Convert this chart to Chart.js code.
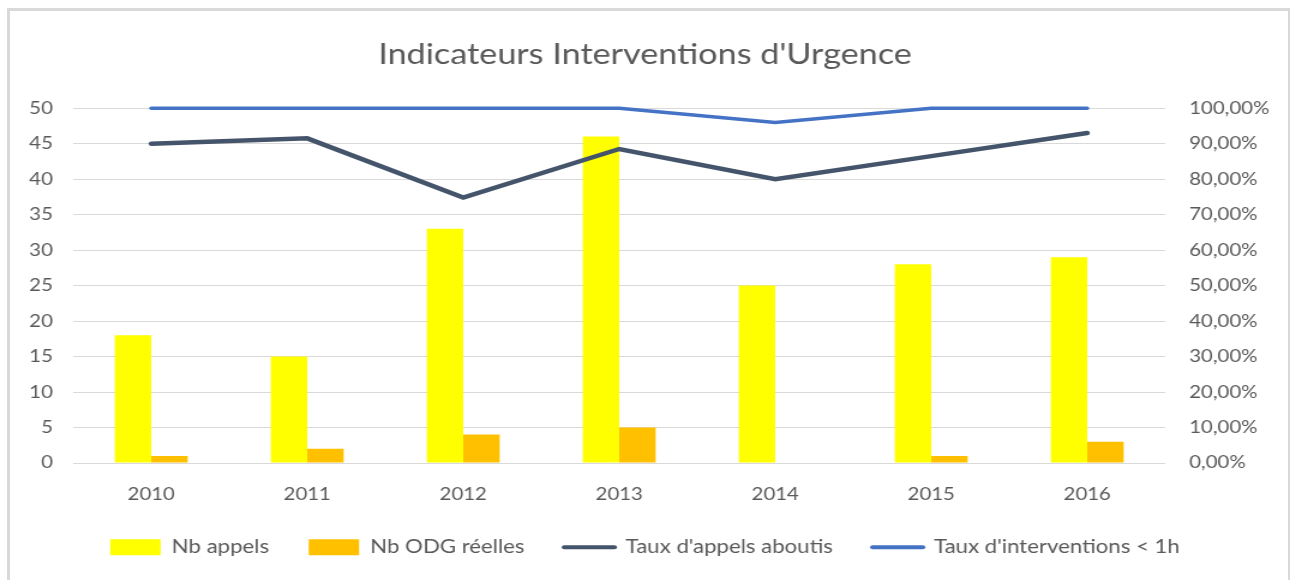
<!DOCTYPE html>
<html lang="fr">
<head>
<meta charset="utf-8">
<title>Indicateurs Interventions d'Urgence</title>
<script src="https://cdn.jsdelivr.net/npm/chart.js@4.4.1/dist/chart.umd.min.js"></script>
<style>
    html, body { margin: 0; padding: 0; background: #ffffff; overflow: hidden; }
    #frame {
        position: absolute;
        left: 7px;
        top: 8px;
        width: 1278px;
        height: 600px;
        border: 3px solid #d9d9d9;
    }
    /* Le graphique d'origine est étiré horizontalement (~1,2x) */
    #wrap {
        position: absolute;
        left: 0;
        top: 0;
        width: 1075px;
        height: 580px;
        transform: scaleX(1.2);
        transform-origin: 0 0;
    }
</style>
</head>
<body>
<div id="frame"></div>
<div id="wrap"><canvas id="chart" width="1075" height="580"></canvas></div>
<script>
// Données
const annees = ['2010', '2011', '2012', '2013', '2014', '2015', '2016'];
const nbAppels = [18, 15, 33, 46, 25, 28, 29];
const nbOdgReelles = [1, 2, 4, 5, 0, 1, 3];
const tauxAppelsAboutis = [90.0, 91.5, 74.8, 88.5, 80.0, 86.5, 93.0];
const tauxInterventions = [100, 100, 100, 100, 96.0, 100, 100];

const gris = '#595959';
const police = 'Lato, "Open Sans", sans-serif';

// Formate les pourcentages comme dans Excel (virgule décimale)
function formatPourcent(value) {
    return value.toFixed(2).replace('.', ',') + '%';
}

// Fixe la hauteur de la légende pour la placer comme dans l'original
const hauteurLegende = {
    id: 'hauteurLegende',
    beforeLayout(chart) {
        const legend = chart.legend;
        if (legend && !legend._hauteurFixe) {
            const fitOrigine = legend.fit;
            legend.fit = function() {
                fitOrigine.call(this);
                this.height = 75;
            };
            legend._hauteurFixe = true;
        }
    }
};

Chart.defaults.font.family = police;
Chart.defaults.color = gris;

const ctx = document.getElementById('chart').getContext('2d');

new Chart(ctx, {
    type: 'bar',
    data: {
        labels: annees,
        datasets: [
            {
                label: 'Nb appels',
                data: nbAppels,
                backgroundColor: '#ffff00',
                yAxisID: 'y',
                order: 3
            },
            {
                label: 'Nb ODG réelles',
                data: nbOdgReelles,
                backgroundColor: '#ffc000',
                yAxisID: 'y',
                order: 3
            },
            {
                type: 'line',
                label: "Taux d'appels aboutis",
                data: tauxAppelsAboutis,
                borderColor: '#44546a',
                backgroundColor: '#44546a',
                borderWidth: 4.5,
                borderCapStyle: 'round',
                pointRadius: 0,
                tension: 0,
                clip: false,
                yAxisID: 'y1',
                order: 2
            },
            {
                type: 'line',
                label: "Taux d'interventions < 1h",
                data: tauxInterventions,
                borderColor: '#4472c4',
                backgroundColor: '#4472c4',
                borderWidth: 3.5,
                borderCapStyle: 'round',
                pointRadius: 0,
                tension: 0,
                clip: false,
                yAxisID: 'y1',
                order: 1
            }
        ]
    },
    options: {
        responsive: false,
        animation: false,
        layout: {
            padding: { top: 0, bottom: 0, left: 0, right: 0 }
        },
        datasets: {
            bar: {
                categoryPercentage: 0.467,
                barPercentage: 1.0
            }
        },
        scales: {
            x: {
                grid: { display: false },
                border: { display: false },
                ticks: {
                    color: gris,
                    font: { size: 17 },
                    padding: 13
                },
                afterFit: function(scale) {
                    scale.height = 42;
                }
            },
            y: {
                position: 'left',
                min: 0,
                max: 50,
                grid: {
                    color: '#d9d9d9',
                    lineWidth: 1,
                    drawTicks: false
                },
                border: { display: false },
                ticks: {
                    stepSize: 5,
                    color: gris,
                    font: { size: 17 },
                    padding: 17
                },
                afterFit: function(scale) {
                    scale.width = 61;
                }
            },
            y1: {
                position: 'right',
                min: 0,
                max: 100,
                grid: {
                    drawOnChartArea: false,
                    drawTicks: false
                },
                border: { display: false },
                ticks: {
                    stepSize: 10,
                    color: gris,
                    font: { size: 17 },
                    padding: 20,
                    callback: function(value) {
                        return formatPourcent(value);
                    }
                },
                afterFit: function(scale) {
                    scale.width = 104;
                }
            }
        },
        plugins: {
            title: {
                display: true,
                text: "Indicateurs Interventions d'Urgence",
                color: gris,
                font: { size: 28.5, weight: 'normal' },
                padding: { top: 38, bottom: 36 }
            },
            legend: {
                position: 'bottom',
                labels: {
                    color: gris,
                    font: { size: 18.5 },
                    usePointStyle: true,
                    pointStyleWidth: 42,
                    boxHeight: 16,
                    padding: 33,
                    sort: function(a, b) {
                        return a.datasetIndex - b.datasetIndex;
                    },
                    generateLabels: function(chart) {
                        return chart.data.datasets.map((ds, i) => {
                            const estLigne = ds.type === 'line';
                            return {
                                text: ds.label,
                                fillStyle: ds.backgroundColor,
                                strokeStyle: estLigne ? ds.borderColor : ds.backgroundColor,
                                lineWidth: estLigne ? 4 : 0,
                                lineCap: 'round',
                                pointStyle: estLigne ? 'line' : 'rect',
                                fontColor: gris,
                                hidden: false,
                                datasetIndex: i
                            };
                        });
                    }
                }
            },
            tooltip: { enabled: false }
        }
    },
    plugins: [hauteurLegende]
});
</script>
</body>
</html>
